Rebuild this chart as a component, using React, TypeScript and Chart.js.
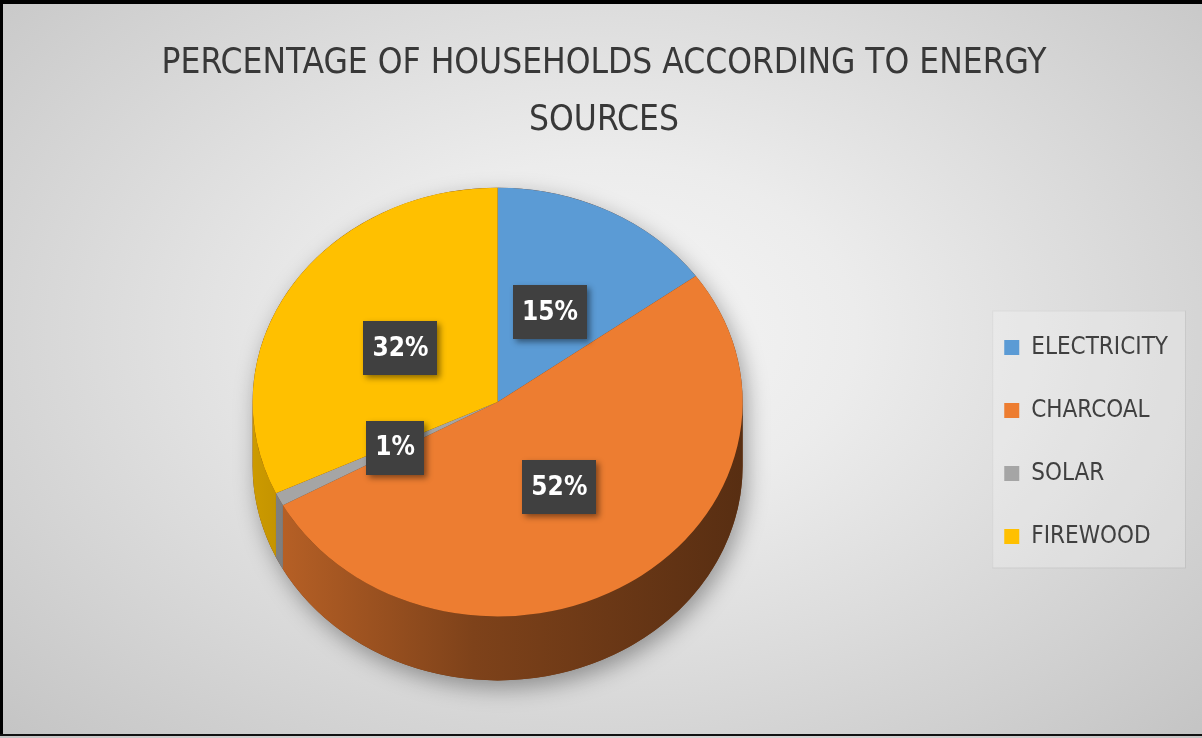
import React, { useEffect, useRef } from "react";
import { Chart, registerables } from "chart.js";

Chart.register(...registerables);

const categories = ["ELECTRICITY", "CHARCOAL", "SOLAR", "FIREWOOD"];
const shares = [15, 52, 1, 32];
const sliceColors = ["#5b9bd5", "#ed7d31", "#a5a5a5", "#ffc000"];
const titleLines = ["PERCENTAGE OF HOUSEHOLDS ACCORDING TO ENERGY", "SOURCES"];

const FONT = "'Liberation Sans Narrow', 'DejaVu Sans Condensed', Lato, sans-serif";
const TILT = 0.875;
const FACE_CY = 402;
const DEPTH = 64;
const LABEL_R = 0.47;

function shade(hex: string, f: number) {
  const n = parseInt(hex.slice(1), 16);
  const r = Math.round(((n >> 16) & 255) * f);
  const g = Math.round(((n >> 8) & 255) * f);
  const b = Math.round((n & 255) * f);
  return `rgb(${r},${g},${b})`;
}

const pie3d = {
  id: "pie3d",
  beforeDraw(chart: any) {
    const lg = chart.legend;
    if (!lg || !lg.legendHitBoxes || !lg.legendHitBoxes.length) return;
    const hb = lg.legendHitBoxes;
    let l = Infinity, r = -Infinity, t = Infinity, b = -Infinity;
    for (const h of hb) {
      l = Math.min(l, h.left);
      r = Math.max(r, h.left + h.width);
      t = Math.min(t, h.top);
      b = Math.max(b, h.top + h.height);
    }
    const ctx = chart.ctx;
    ctx.save();
    ctx.fillStyle = "rgba(255,255,255,0.22)";
    ctx.strokeStyle = "rgba(0,0,0,0.06)";
    ctx.lineWidth = 1;
    ctx.fillRect(l - 12, t - 25, r - l + 29, b - t + 44);
    ctx.strokeRect(l - 12 + 0.5, t - 25 + 0.5, r - l + 29, b - t + 44);
    ctx.restore();
  },
  beforeDatasetsDraw(chart: any) {
    const ctx = chart.ctx;
    const arcs = chart.getDatasetMeta(0).data;
    if (!arcs.length) return;
    const cx = arcs[0].x;
    const cy = arcs[0].y;
    const r = arcs[0].outerRadius;
    const ry = r * TILT;

    // silhouette with soft shadow
    ctx.save();
    ctx.shadowColor = "rgba(0,0,0,0.35)";
    ctx.shadowBlur = 22;
    ctx.shadowOffsetX = 4;
    ctx.shadowOffsetY = 8;
    ctx.beginPath();
    ctx.ellipse(cx, FACE_CY, r, ry, 0, Math.PI, 2 * Math.PI);
    ctx.ellipse(cx, FACE_CY + DEPTH, r, ry, 0, 0, Math.PI);
    ctx.closePath();
    ctx.fillStyle = "#6b3510";
    ctx.fill();
    ctx.restore();

    // side walls
    arcs.forEach((arc: any, i: number) => {
      const lo = Math.max(arc.startAngle, 0);
      const hi = Math.min(arc.endAngle, Math.PI);
      if (hi <= lo) return;
      const c = sliceColors[i];
      const grad = ctx.createLinearGradient(cx - r, 0, cx + r, 0);
      grad.addColorStop(0, shade(c, 0.8));
      grad.addColorStop(0.45, shade(c, 0.53));
      grad.addColorStop(1, shade(c, 0.37));
      ctx.save();
      ctx.beginPath();
      ctx.ellipse(cx, FACE_CY, r, ry, 0, lo, hi);
      ctx.ellipse(cx, FACE_CY + DEPTH, r, ry, 0, hi, lo, true);
      ctx.closePath();
      ctx.fillStyle = grad;
      ctx.fill();
      ctx.restore();
    });

    // squash top face
    ctx.save();
    ctx.translate(0, FACE_CY);
    ctx.scale(1, TILT);
    ctx.translate(0, -cy);
  },
  afterDatasetsDraw(chart: any) {
    const ctx = chart.ctx;
    ctx.restore();
    const arcs = chart.getDatasetMeta(0).data;
    if (!arcs.length) return;
    const cx = arcs[0].x;
    const r = arcs[0].outerRadius;
    ctx.save();
    ctx.font = `bold 26px ${FONT}`;
    ctx.textAlign = "center";
    ctx.textBaseline = "middle";
    arcs.forEach((arc: any, i: number) => {
      const mid = (arc.startAngle + arc.endAngle) / 2;
      const px = cx + Math.cos(mid) * r * LABEL_R;
      const py = FACE_CY + Math.sin(mid) * r * LABEL_R * TILT;
      const text = `${shares[i]}%`;
      const tw = ctx.measureText(text).width;
      const bw = tw + 18;
      const bh = 54;
      ctx.save();
      ctx.shadowColor = "rgba(0,0,0,0.45)";
      ctx.shadowBlur = 6;
      ctx.shadowOffsetX = 3;
      ctx.shadowOffsetY = 3;
      ctx.fillStyle = "#404040";
      ctx.fillRect(Math.round(px - bw / 2), Math.round(py - bh / 2), Math.round(bw), bh);
      ctx.restore();
      ctx.fillStyle = "#ffffff";
      ctx.fillText(text, px, py + 1);
    });
    ctx.restore();
  },
};

export default function App() {
  const ref = useRef<HTMLCanvasElement>(null);
  useEffect(() => {
    const chart = new Chart(ref.current as HTMLCanvasElement, {
      type: "pie",
      data: {
        labels: categories,
        datasets: [
          {
            data: shares,
            backgroundColor: sliceColors,
            borderWidth: 0,
            clip: false,
          } as any,
        ],
      },
      options: {
        responsive: false,
        animation: false,
        devicePixelRatio: 1,
        events: [],
        layout: { padding: { top: 0, left: 30, right: 24, bottom: 51 } },
        plugins: {
          title: {
            display: true,
            text: titleLines,
            color: "#383838",
            font: { family: FONT, size: 35, weight: "normal", lineHeight: "57px" } as any,
            padding: { top: 35, bottom: 48 },
          },
          legend: {
            position: "right",
            align: "center",
            fullSize: false,
            labels: {
              boxWidth: 15,
              boxHeight: 15,
              padding: 39,
              color: "#404040",
              font: { family: FONT, size: 24 },
            },
          },
          tooltip: { enabled: false },
        },
      } as any,
      plugins: [pie3d],
    });
    return () => chart.destroy();
  }, []);
  return (
    <div
      style={{
        position: "absolute",
        left: 0,
        top: 0,
        width: 1202,
        height: 738,
        overflow: "hidden",
        background:
          "radial-gradient(ellipse at 50% 45%, #f6f6f6 0%, #ececec 30%, #d8d8d8 65%, #c4c4c4 100%)",
      }}
    >
      <canvas
        ref={ref}
        width={1202}
        height={738}
        style={{ position: "absolute", left: 0, top: 0, width: 1202, height: 738 }}
      />
      <div style={{ position: "absolute", left: 0, top: 0, width: 1202, height: 4, background: "#000" }} />
      <div style={{ position: "absolute", left: 0, top: 0, width: 3, height: 736, background: "#000" }} />
      <div style={{ position: "absolute", left: 0, top: 734, width: 1202, height: 2, background: "#111" }} />
    </div>
  );
}
